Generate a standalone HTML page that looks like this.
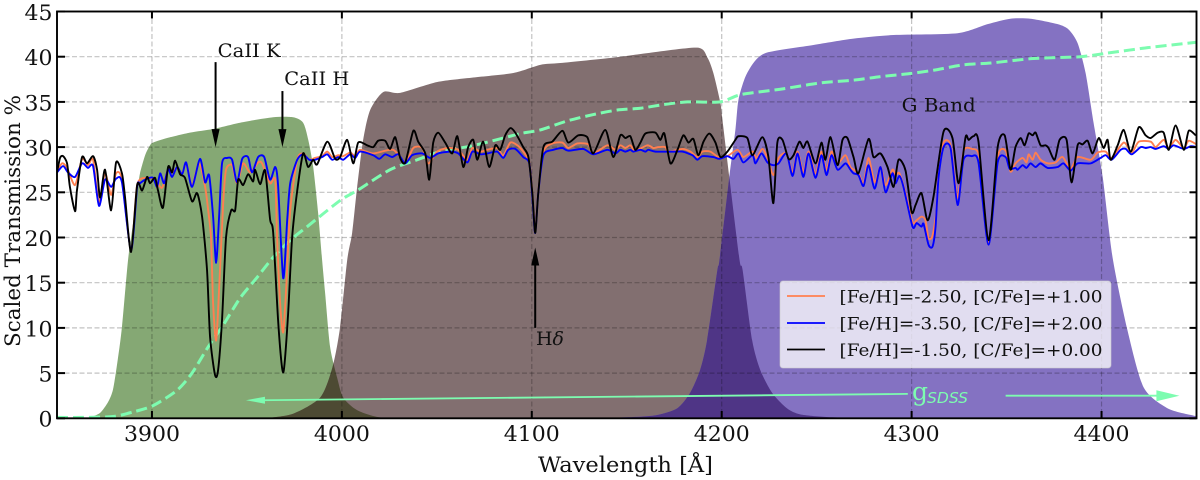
<!DOCTYPE html>
<html>
<head>
<meta charset="utf-8">
<title>Scaled Transmission Spectra</title>
<style>
html,body{margin:0;padding:0;background:#fff;width:1200px;height:480px;overflow:hidden}
svg{display:block;filter:blur(0.35px)}
text{font-family:"DejaVu Serif","Liberation Serif",serif;fill:#111}
</style>
</head>
<body>
<svg id="chart" xmlns="http://www.w3.org/2000/svg" width="1200" height="480" viewBox="0 0 1200 480">
  <defs>
    <clipPath id="plot-clip"><rect x="57" y="11.5" width="1139.5" height="406.8"/></clipPath>
    <clipPath id="green-clip"><path id="green-clip-path" d=""/></clipPath>
    <clipPath id="purple-clip"><path id="purple-clip-path" d=""/></clipPath>
  </defs>
  <g id="filters" clip-path="url(#plot-clip)"></g>
  <g id="grid"></g>
  <g id="series" clip-path="url(#plot-clip)"></g>
  <g id="annotations"></g>
  <g id="axes"></g>
  <text x="538" y="472" font-size="21.5" textLength="175" lengthAdjust="spacingAndGlyphs">Wavelength [Å]</text>
  <text transform="translate(20,347) rotate(-90)" font-size="21.5" textLength="252" lengthAdjust="spacingAndGlyphs">Scaled Transmission %</text>
  <text x="217.7" y="57" font-size="18.5" textLength="63" lengthAdjust="spacingAndGlyphs">CaII K</text>
  <text x="284.3" y="85" font-size="18.5" textLength="65" lengthAdjust="spacingAndGlyphs">CaII H</text>
  <text x="901.7" y="111.5" font-size="18.5" textLength="74" lengthAdjust="spacingAndGlyphs">G Band</text>
  <text x="536" y="345" font-size="18.5" textLength="28" lengthAdjust="spacingAndGlyphs">H<tspan font-style="italic">δ</tspan></text>
  <text x="912" y="400" font-size="25" style="fill:#7dfcb0">g</text>
  <text x="927" y="403" font-size="15.3" font-style="italic" textLength="41" lengthAdjust="spacingAndGlyphs" style="fill:#7dfcb0;font-family:'DejaVu Sans',sans-serif">SDSS</text>
  <g>
    <rect x="780" y="281" width="331" height="87" rx="3" ry="3" fill="#fff" fill-opacity="0.76" stroke="#ccc" stroke-opacity="0.6" stroke-width="1"/>
    <line x1="787" x2="825" y1="296" y2="296" stroke="#ff7f50" stroke-width="1.7"/>
    <line x1="787" x2="825" y1="323" y2="323" stroke="#0000ff" stroke-width="1.7"/>
    <line x1="787" x2="825" y1="349.5" y2="349.5" stroke="#000" stroke-width="1.7"/>
    <text x="839.5" y="302.5" font-size="17" textLength="263" lengthAdjust="spacingAndGlyphs">[Fe/H]=-2.50, [C/Fe]=+1.00</text>
    <text x="839.5" y="329.5" font-size="17" textLength="263" lengthAdjust="spacingAndGlyphs">[Fe/H]=-3.50, [C/Fe]=+2.00</text>
    <text x="839.5" y="356" font-size="17" textLength="263" lengthAdjust="spacingAndGlyphs">[Fe/H]=-1.50, [C/Fe]=+0.00</text>
  </g>
</svg>
<script>
var xTickLabels = [3900,4000,4100,4200,4300,4400];
var yTickLabels = [0,5,10,15,20,25,30,35,40,45];

var greenWave = [3850,3865,3867.4,3872.7,3876.9,3879.5,3882,3884.2,3887.4,3890,3892.7,3893.7,3896.4,3899,3900.6,3908,3920,3932.2,3946.4,3963.8,3974.3,3979.6,3982.3,3984.9,3987.5,3989.6,3991.2,3993.8,3997.5,4000.7,4008,4020,4040];
var greenTrans = [0,0.05,0.1,0.6,1.8,3.2,6.5,10.1,17.5,21.5,25.6,27.1,29.1,30.2,30.5,31,31.6,32,32.7,33.3,33.3,32.7,30.8,27.8,22.7,17.5,13.8,7.9,4.5,2.3,0.9,0.1,0];

var brownWave = [3960,3974.3,3988.6,3995,3999,4002.8,4005.4,4008,4011.2,4014.9,4021.8,4030.7,4050.2,4069.2,4090.3,4104.5,4115,4143,4160.9,4187.2,4192.5,4195.6,4199.3,4200.4,4204,4209.4,4211,4216,4220.3,4226.6,4234.4,4241.3,4255,4275];
var brownTrans = [0,0.5,2.3,5.6,10,17.5,20.5,25.5,30.8,34.1,36.1,36,37.2,37.7,38.2,39.1,39.3,39.9,40.4,41,39.9,38.2,34.9,33,26.7,17.5,16.4,8.66,5.35,2.8,1.1,0.44,0.15,0];

var purpleWave = [4130,4153.3,4166,4176.5,4183.3,4188.6,4192.3,4197.7,4198.8,4204,4207.2,4208.8,4212.5,4217.8,4224.6,4248.3,4269.4,4290.5,4324.2,4340,4352,4362.6,4376.9,4382.7,4387.4,4391.6,4395.8,4400.6,4405.8,4413.7,4422.2,4434.8,4448.5,4450];
var purpleTrans = [0,0.14,0.37,1.1,2.8,5.35,8.66,16.4,17.5,26.7,31.9,35.2,37.8,39.6,40.5,41.3,42,42.4,42.6,43.6,44.2,44.2,43.6,43,41.5,38.2,32.7,26.7,17.8,9.7,3.4,1.1,0.3,0.3];

var sdssWave = [3850,3863.7,3879.5,3890,3900.6,3913.2,3921.1,3929.6,3937.5,3946.4,3955.4,3963.8,3972.8,3981.7,3999.1,4008.1,4025.4,4039.7,4051.8,4067.6,4085,4093.9,4104.5,4118.7,4132.4,4145,4157.2,4169.3,4181.9,4199.3,4209.9,4230.9,4252,4269.4,4283.6,4297.8,4311.5,4327.3,4341.6,4364.2,4389,4403.2,4424.3,4450];
var sdssTrans = [0.1,0.1,0.2,0.7,1.4,3.1,5,7.9,10.3,13.3,15.6,17.8,19.7,21.2,24.1,25.2,27.5,28.6,29.5,30.1,31,31.5,31.9,32.9,33.6,34.1,34.3,34.7,35,35,35.8,36.4,37.1,37.4,37.8,38.1,38.5,39.1,39.3,39.8,40,40.4,41,41.6];

var blackWave = [3850,3851.6,3853.2,3855.3,3856.8,3859.5,3860.5,3863.2,3865.8,3869,3871.1,3872.7,3875.3,3878.5,3881.1,3884.2,3885.8,3889,3892.2,3894.8,3897.4,3899,3901.6,3903.2,3905.8,3908.5,3910.6,3912.2,3914.8,3917.4,3921.1,3923.8,3926.4,3929,3930.6,3933.2,3934.8,3936.9,3939,3941.7,3943.8,3945.4,3948,3950.6,3953.3,3954.3,3957,3959.6,3962.2,3963.8,3966.4,3968.5,3969.6,3971.7,3973.8,3976.5,3979.6,3982.2,3984.9,3987,3992.3,3996.5,3999.1,4002.8,4006,4008.6,4013.3,4016.5,4019.1,4022.8,4025.4,4028.1,4030.7,4033.4,4037.6,4040.2,4043.9,4046,4048.1,4050.7,4054.4,4058.1,4060.8,4063.9,4066.5,4069.2,4071.3,4074.4,4077.6,4080.8,4083.4,4086,4088.7,4091.3,4095.5,4098.2,4100.3,4101.8,4103.4,4106.1,4110.8,4116.1,4119.2,4124.5,4129.2,4132.4,4138.7,4142.9,4146.6,4149.3,4151.9,4154.5,4157.2,4159.8,4165.1,4167.7,4169.8,4173,4176.7,4179.8,4182.5,4185.1,4187.7,4190.4,4193.5,4196.7,4199.3,4203,4207.2,4208.8,4213.5,4216.2,4221.4,4224.6,4227.2,4229.3,4232,4235.2,4237.8,4240.9,4243,4245.2,4249.4,4252.5,4254.6,4257.3,4261,4263.6,4266.2,4269.4,4272,4277.3,4279.9,4283.6,4287.3,4290.5,4293.1,4296.8,4300,4302.1,4305.2,4308.4,4311.5,4316.8,4321.5,4324.7,4328.4,4330,4332.6,4335.2,4340.5,4345.3,4349,4352.1,4354.7,4357.4,4359.5,4361.6,4363.7,4365.3,4367.9,4370.5,4372.1,4375.3,4377.9,4381.6,4384.2,4387.4,4390,4392.7,4395.3,4398.5,4401.1,4403.2,4404.8,4408.5,4411.7,4415.4,4419.6,4423.2,4425.9,4429.6,4432.7,4435.4,4439,4443.3,4445.9,4449.6];
var blackFlux = [27.2,28.8,29,28.2,25.6,22.9,25.2,28.9,28.2,29,27.5,24.4,27.5,23,28.3,27.1,24.5,18.4,25.8,25.2,26.7,26,26.6,25.2,23.3,27.8,27.2,28.5,27,26.6,24,24.9,22.3,16.4,9,4.8,5.3,10.9,20,23,23,26.4,25.8,27,26.2,27.5,25.9,27.4,22,20.6,10.9,5.6,5.6,11.6,20,25.2,29.3,27.8,28.6,28.1,30.6,28.7,28.9,30.8,28.2,30.5,30.2,30,30.7,30.7,29.8,31.1,28.8,28.3,31.8,30.6,29.3,26.4,30.5,31.6,30.5,29.3,31.2,27.8,30,30.8,28.6,30.6,27.8,30.2,29.7,31.3,32.1,31.6,30,28.9,24.9,20.5,24.9,30,30.6,31.8,30.5,31.3,31.1,29.3,31.9,28.9,31.3,31,31.2,29.7,30.5,31.5,31.6,30.8,31.5,28.2,29.7,31.3,30.5,30.9,29.1,30.6,31.5,30.5,28.9,29.5,30.8,31.2,31,29.1,31.1,28.9,23.8,30.5,30.8,28.7,29.1,30.6,29.9,30.6,28.2,30.5,28.6,31.1,28,30.8,31,28.9,27.1,30.9,28.9,29.3,27.8,25.6,28.6,27.4,22.8,23.6,24.9,21.9,24.5,31.7,31,26,31.1,30.8,31.2,30.6,19.7,30,31.3,27.5,30,31,30.2,31.5,31.3,31.6,30.2,30.2,29.9,28.6,30.8,30.8,26.1,30.2,30.3,30.7,29.3,31,29.9,30.8,28.6,30.2,31.9,29.5,32.2,31.3,31,31.6,31.6,29.7,32.4,29.7,31.8,31.3];

var blueWave = [3850,3853.2,3855.8,3859.5,3863.2,3866.3,3869,3872.1,3875.3,3878.5,3881.1,3884.2,3889,3892.2,3893.7,3897.4,3900.6,3902.7,3904.3,3906.4,3908.5,3910.6,3913.2,3915.9,3918,3921.1,3925.3,3928,3930.1,3932.2,3933.8,3935.4,3936.9,3939.6,3942.2,3944.8,3947.5,3950.6,3952.7,3955.9,3959.1,3962.2,3964.9,3966.4,3969.1,3971.2,3972.8,3976.5,3979.6,3982.8,3985.9,3989.6,3992.3,3994.9,3998.1,4000.7,4004.4,4007,4009.6,4016.5,4019.7,4022.8,4026.5,4029.7,4033.4,4037,4042.3,4046.5,4050.7,4057.1,4061.3,4066,4068.7,4072.9,4076.6,4081.8,4085,4087.6,4091.3,4095.5,4098.7,4100.3,4101.8,4103.4,4106.1,4111.3,4116.1,4119.2,4127.1,4132.4,4139.8,4144,4146.6,4149.3,4151.9,4153.5,4157.2,4159.8,4161.4,4165.1,4174.6,4179.3,4184.6,4187.2,4189.8,4195.6,4198.8,4203,4206.2,4208.8,4211.4,4216.2,4217.8,4220.9,4224.1,4227.2,4229.9,4234.1,4237.3,4239.9,4243,4245.7,4249.4,4252.5,4255.2,4257.8,4261,4265.2,4267.8,4269.4,4272,4274.7,4277.3,4280.5,4283.6,4286.3,4289.9,4291.5,4293.6,4295.7,4300.5,4302.6,4305.2,4306.3,4308.9,4311,4312.6,4314.2,4316.8,4320.5,4324.2,4327.3,4331.6,4335.2,4340.5,4345.3,4349.5,4351.6,4354.7,4355.8,4358.4,4360.5,4362.6,4365.3,4367.9,4371.6,4376.9,4380,4383.7,4387.4,4394.3,4399.5,4402.2,4405.3,4410.1,4412.7,4415.9,4420.6,4423.2,4425.9,4428.5,4432.7,4435.4,4438,4443.3,4447,4450];
var blueFlux = [27.2,27.9,27.2,26.7,28.2,27.7,27.9,23.5,26.4,25.6,26.5,26.1,18.6,25.6,26,26.5,26.6,25.6,27.1,26,27.6,26.7,27.8,27,28.3,25.6,28.7,26.1,26.9,22.3,17.2,22.5,28.2,28.8,28.6,26.1,28.7,28.9,27.2,28.9,28.9,26.4,27.8,25.8,15.5,21.9,26,28.6,29.2,28.6,28.6,28.9,29.2,28.6,28.9,28.6,29.2,28.8,29.5,29.1,28.7,29.2,28.9,29.2,28.2,29.1,29.3,28.8,29.3,29.5,29.3,28.3,29.5,29.2,29.3,29.5,28.8,29.7,29.8,28.9,28.2,24.5,20.5,24.9,29.1,29.7,29.9,29.6,29.8,29.2,29.7,29.3,29.7,29.5,29.7,29.5,29.7,29.5,29.7,29.5,29.5,29.5,29.1,28.6,29,28.9,28.7,29,28.7,29.3,28.3,29.1,28.2,29.3,28.3,28,28.2,29.3,26.8,29.3,26.7,29.3,26.6,29.1,26.9,29.1,27.5,28.2,27.5,27.1,26.9,25.7,28,25.4,27.8,25,27.1,26,26.8,25.6,21.2,21.6,21.2,21.5,19.2,19,21.2,26.7,30,29.9,23.6,28.6,29,28.3,19.2,28.3,28.9,27.6,27.7,27.5,28,27.7,28.2,27.8,28.2,27.7,27.8,28.2,27.4,28.2,28.2,28.8,29.1,28.6,29.7,29.8,29.2,30,29.9,30,29.8,30.1,29.8,30.2,29.8,30.1,30];

var orangeWave = [3850,3852.6,3855.3,3859.5,3863.2,3866.3,3869,3872.1,3875.3,3878.5,3881.1,3884.2,3889,3892.2,3897.4,3901.6,3905.3,3908.5,3910.6,3913.2,3915.9,3918,3921.1,3924.8,3928,3929.6,3931.1,3932.2,3933.8,3935.4,3937.5,3939,3942.2,3944.8,3948,3951.7,3955.9,3958,3962.2,3964.9,3965.9,3967.5,3969.1,3970.7,3972.8,3976.5,3979.6,3982.8,3985.9,3989.6,3992.3,3994.9,3998.1,4000.7,4004.4,4007,4009.6,4016.5,4027,4033.4,4037.6,4042.3,4045.5,4050.2,4056,4061.3,4066,4068.7,4072.9,4076.6,4081.8,4085,4088.7,4092.4,4095.5,4098.7,4100.3,4101.8,4103.4,4106.1,4110.8,4116.1,4119.2,4124,4129.8,4132.4,4139.8,4144,4146.6,4149.3,4151.9,4154.5,4160.9,4164,4166.7,4170.4,4172,4179.3,4183.5,4187.2,4189.8,4194,4198.3,4203,4208.3,4211.4,4216.2,4218.3,4221.4,4224.1,4227.2,4229.9,4234.1,4237.3,4239.9,4243,4245.7,4249.4,4252.5,4255.2,4257.8,4261,4265.2,4267.8,4272,4274.7,4277.3,4280.5,4283.6,4286.3,4289.9,4291.5,4293.6,4296.8,4300.5,4302.6,4305.2,4307.3,4308.9,4311,4313.1,4314.2,4316.8,4320.5,4324.2,4327.3,4331.6,4335.8,4340.5,4345.3,4349.5,4352.1,4354.7,4358.4,4360.5,4361.6,4363.7,4365.3,4367.9,4371.6,4375.8,4379.5,4383.7,4387.4,4394.3,4398,4402.2,4405.3,4411.7,4415.9,4419.6,4425.9,4428.5,4432.7,4435.4,4439,4443.3,4445.9,4450];
var orangeFlux = [27.2,28.2,27.7,25.8,28.7,28,28.6,23.9,27.1,24.7,27.1,26.4,18.6,25.8,26.6,26.4,25.5,27.6,27.2,27.7,27.1,28.2,25.8,28.2,25.6,23,20,12.7,8.6,14.5,23.8,27.5,28,26,28.2,27.2,28.3,28.2,26,26.4,20,12.7,9.5,14.5,23,28.6,29.3,28.6,28.8,29,29.5,28.9,29.1,29,29.4,29,29.7,29.3,29.7,28.3,29.9,29.9,28.2,29.5,29.9,29.7,28.6,29.9,29.5,29.7,29.9,29.1,30.5,30.2,29.5,28.3,24.9,20.7,25,29.5,30.4,30.5,29.9,30.4,30.3,29.3,30.2,29.7,30.2,29.9,30.2,29.6,30.2,29.9,30,30,29.5,29.8,29.5,28.9,29.5,29.5,28.9,29,29.7,28.9,29.5,28.8,29.8,28.8,26.9,28.8,29.3,27.2,29.5,27.2,29.5,27.1,29.5,27.5,29.5,28.2,29.1,27.8,27.1,26,28.8,26.1,27.8,25.8,27.5,26.9,27.1,24.9,21.7,21.9,22.3,21.9,19.9,20.2,23,27.5,30.5,30.2,24.4,29.5,29.8,28.8,19.5,28.9,29.6,27.3,28.2,28.8,28.3,29.2,28.6,29.4,28.6,28.2,28.3,28.9,27.6,28.9,28.6,29.4,29.5,28.8,30.5,29.4,30.6,30.6,30,30.8,29.9,30.8,29.9,30.7,30.3];

var arrowCaK = [3933.5,39.4,30.0];
var arrowCaH = [3968.7,36.2,30.0];
var arrowHd = [4101.8,10,18.9];
var sdssArrowLeft = [4298,2.7,3949.5,2.0];
var sdssArrowRight = [4349.5,2.5,4441,2.5];

var NS = 'http://www.w3.org/2000/svg';
function xPx(w){ return 57 + (w - 3850) * (1139.5 / 600); }
function yPx(v){ return 418.3 - v * (406.8 / 45); }
function linePath(ws, vs){
  var n = ws.length;
  var px = [], py = [];
  for (var i = 0; i < n; i++){ px.push(xPx(ws[i])); py.push(yPx(vs[i])); }
  var d = 'M' + px[0].toFixed(2) + ' ' + py[0].toFixed(2);
  for (var j = 0; j < n - 1; j++){
    var a = Math.max(j - 1, 0), b = Math.min(j + 2, n - 1);
    var c1x = px[j] + (px[j + 1] - px[a]) / 8;
    var c1y = py[j] + (py[j + 1] - py[a]) / 8;
    var c2x = px[j + 1] - (px[b] - px[j]) / 8;
    var c2y = py[j + 1] - (py[b] - py[j]) / 8;
    d += 'C' + c1x.toFixed(2) + ' ' + c1y.toFixed(2) + ' ' + c2x.toFixed(2) + ' ' + c2y.toFixed(2) + ' ' + px[j + 1].toFixed(2) + ' ' + py[j + 1].toFixed(2);
  }
  return d;
}
function areaPath(ws, vs){
  return linePath(ws, vs) + 'L' + xPx(ws[ws.length - 1]).toFixed(2) + ' ' + yPx(0).toFixed(2) + 'L' + xPx(ws[0]).toFixed(2) + ' ' + yPx(0).toFixed(2) + 'Z';
}
function make(tag, attrs, parent){
  var el = document.createElementNS(NS, tag);
  for (var k in attrs) el.setAttribute(k, attrs[k]);
  parent.appendChild(el);
  return el;
}
var filters = document.getElementById('filters');
var grid = document.getElementById('grid');
var series = document.getElementById('series');
var ann = document.getElementById('annotations');
var axes = document.getElementById('axes');
var el;

document.getElementById('green-clip-path').setAttribute('d', areaPath(greenWave, greenTrans));
document.getElementById('purple-clip-path').setAttribute('d', areaPath(purpleWave, purpleTrans));

el = make('path', {d: areaPath(greenWave, greenTrans), fill: '#85a874'}, filters);


el = make('path', {d: areaPath(brownWave, brownTrans), fill: '#826f70'}, filters);


el = make('path', {d: areaPath(purpleWave, purpleTrans), fill: '#8472c2'}, filters);


el = make('path', {d: areaPath(brownWave, brownTrans), fill: '#4d4a33', 'clip-path': 'url(#green-clip)'}, filters);


el = make('path', {d: areaPath(brownWave, brownTrans), fill: '#4f3586', 'clip-path': 'url(#purple-clip)'}, filters);



xTickLabels.forEach(function(t){
  el = make('line', {x1: xPx(t), x2: xPx(t), y1: 11.5, y2: 418.3, stroke: '#000', 'stroke-opacity': 0.24, 'stroke-width': 1.2, 'stroke-dasharray': '5 2.5'}, grid);
  
  
});
yTickLabels.forEach(function(t){
  if (t === 0 || t === 45) return;
  el = make('line', {x1: 57, x2: 1196.5, y1: yPx(t), y2: yPx(t), stroke: '#000', 'stroke-opacity': 0.24, 'stroke-width': 1.2, 'stroke-dasharray': '5 2.5'}, grid);
  
  
});

el = make('path', {d: linePath(sdssWave, sdssTrans), fill: 'none', stroke: '#7dfcb0', 'stroke-width': 3, 'stroke-dasharray': '11 5'}, series);


el = make('path', {d: linePath(orangeWave, orangeFlux), fill: 'none', stroke: '#ff7f50', 'stroke-width': 1.9, 'stroke-linejoin': 'round'}, series);


el = make('path', {d: linePath(blueWave, blueFlux), fill: 'none', stroke: '#0000ff', 'stroke-width': 1.9, 'stroke-linejoin': 'round'}, series);


el = make('path', {d: linePath(blackWave, blackFlux), fill: 'none', stroke: '#000', 'stroke-width': 1.9, 'stroke-linejoin': 'round'}, series);



function vArrow(a, name){
  var x = xPx(a[0]), y0 = yPx(a[1]), y1 = yPx(a[2]);
  var dir = y1 > y0 ? 1 : -1;
  var g = make('g', {}, ann);
  
  
  make('line', {x1: x, x2: x, y1: y0, y2: y1 - dir * 10, stroke: '#000', 'stroke-width': 2}, g);
  make('polygon', {points: (x - 4) + ',' + (y1 - dir * 18) + ' ' + (x + 4) + ',' + (y1 - dir * 18) + ' ' + x + ',' + y1, fill: '#000'}, g);
}
vArrow(arrowCaK, 'caii-k-arrow');
vArrow(arrowCaH, 'caii-h-arrow');
vArrow(arrowHd, 'h-delta-arrow');

function hArrow(a, name, headLen, headHalf){
  var x0 = xPx(a[0]), y0 = yPx(a[1]), x1 = xPx(a[2]), y1 = yPx(a[3]);
  var dir = x1 > x0 ? 1 : -1;
  var g = make('g', {}, ann);
  
  
  make('line', {x1: x0, y1: y0, x2: x1 - dir * headLen * 0.8, y2: y1, stroke: '#7dfcb0', 'stroke-width': 1.8}, g);
  make('polygon', {points: (x1 - dir * headLen) + ',' + (y1 - headHalf) + ' ' + (x1 - dir * headLen) + ',' + (y1 + headHalf) + ' ' + x1 + ',' + y1, fill: '#7dfcb0'}, g);
}
hArrow(sdssArrowLeft, 'gsdss-arrow-left', 19, 3.5);
hArrow(sdssArrowRight, 'gsdss-arrow-right', 23, 5.5);

function tickLabel(x, y, anchor, t){
  var s = String(t);
  var lab = make('text', {x: x, y: y, 'text-anchor': anchor, 'font-size': 21, textLength: 14 * s.length, lengthAdjust: 'spacingAndGlyphs'}, axes);
  lab.textContent = s;
  return lab;
}
xTickLabels.forEach(function(t){
  var x = xPx(t);
  el = make('line', {x1: x, x2: x, y1: 418.3, y2: 411, stroke: '#000', 'stroke-width': 2}, axes);
  
  
  el = make('line', {x1: x, x2: x, y1: 11.5, y2: 18.5, stroke: '#000', 'stroke-width': 2}, axes);
  
  
  el = tickLabel(x, 441, 'middle', t);
  
  
});
yTickLabels.forEach(function(t){
  var y = yPx(t);
  el = make('line', {x1: 57, x2: 65, y1: y, y2: y, stroke: '#000', 'stroke-width': 2}, axes);
  
  
  el = make('line', {x1: 1196.5, x2: 1189.5, y1: y, y2: y, stroke: '#000', 'stroke-width': 2}, axes);
  
  
  el = tickLabel(52.5, y + 8.4, 'end', t);
  
  
});
el = make('rect', {x: 57, y: 11.5, width: 1139.5, height: 406.8, fill: 'none', stroke: '#000', 'stroke-width': 1.9}, axes);


</script>
</body>
</html>
